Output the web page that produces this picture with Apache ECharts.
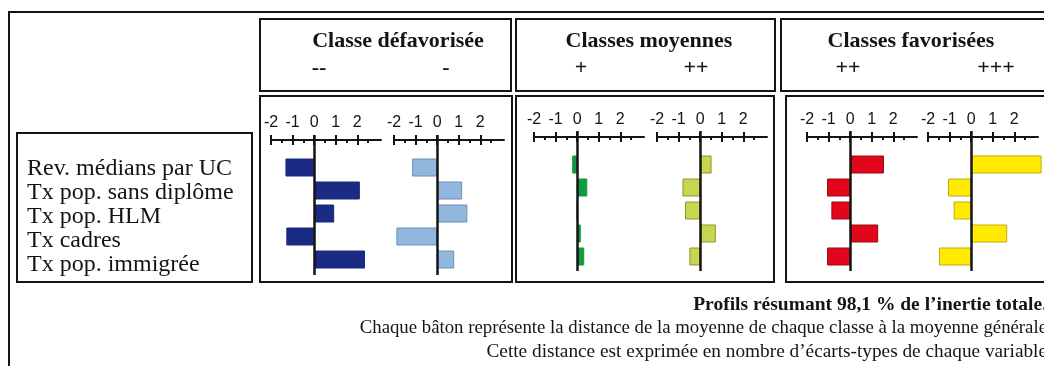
<!DOCTYPE html>
<html>
<head>
<meta charset="utf-8">
<script src="https://cdn.jsdelivr.net/npm/echarts@6/dist/echarts.min.js"></script>
<style>
  html, body { margin: 0; padding: 0; background: #fff; }
  #chart { width: 1044px; height: 366px; }
</style>
</head>
<body>
<div id="chart"></div>
<script>
// variables (rows of every profile)
const variables = ['Rev. médians par UC', 'Tx pop. sans diplôme', 'Tx pop. HLM', 'Tx cadres', 'Tx pop. immigrée'];
const classNames = ['Classe défavorisée', 'Classes moyennes', 'Classes favorisées'];
const profileNames = ['--', '-', '+', '++', '++', '+++'];
const majorTicks = [-2, -1, 0, 1, 2];
const minorTicks = [-1.5, -0.5, 0.5, 1.5, 2.5];

// distance to the mean, in standard deviations
const profilDefav2 = [-1.33, 2.12, 0.93, -1.29, 2.36];
const profilDefav1 = [-1.16, 1.16, 1.40, -1.89, 0.79];
const profilMoy1 = [-0.23, 0.47, 0, 0.17, 0.33];
const profilMoy2 = [0.53, -0.82, -0.70, 0.73, -0.50];
const profilFav2 = [1.57, -1.07, -0.87, 1.30, -1.07];
const profilFav3 = [3.27, -1.07, -0.81, 1.67, -1.49];

const chart = echarts.init(document.getElementById('chart'), null, { renderer: 'canvas' });

// layout of the six small panels
const panels = [
  { data: profilDefav2, left: 271, axisY: 140, top: 156, lineTop: 135, lineBottom: 275, color: '#1b2a82', border: '#1b2a82' },
  { data: profilDefav1, left: 394, axisY: 140, top: 156, lineTop: 135, lineBottom: 275, color: '#92b7df', border: '#6f8fb6' },
  { data: profilMoy1, left: 534, axisY: 137, top: 153, lineTop: 131, lineBottom: 271, color: '#119a40', border: '#119a40' },
  { data: profilMoy2, left: 657, axisY: 137, top: 153, lineTop: 131, lineBottom: 271, color: '#c8d54e', border: '#8d9733' },
  { data: profilFav2, left: 807, axisY: 137, top: 153, lineTop: 131, lineBottom: 271, color: '#e1061b', border: '#9c0a14' },
  { data: profilFav3, left: 928, axisY: 137, top: 153, lineTop: 131, lineBottom: 271, color: '#ffea00', border: '#c3aa10' }
];

const ink = '#141414';
const grids = [], xAxes = [], yAxes = [], series = [];

panels.forEach(function (p, i) {
  grids.push({ left: p.left, top: p.top, width: 110, height: 115, outerBoundsMode: 'none' });

  const base = {
    type: 'value', gridIndex: i, position: 'top', min: -2, max: 3.1,
    offset: p.top - p.axisY, splitLine: { show: false }
  };
  // main axis: line, labels, major ticks above the line
  xAxes.push(Object.assign({}, base, {
    axisLine: { show: true, lineStyle: { color: ink, width: 2 } },
    axisTick: { show: true, customValues: majorTicks, length: 5, lineStyle: { color: ink, width: 2 } },
    axisLabel: { show: true, customValues: majorTicks, margin: 9, fontFamily: 'Liberation Sans', fontSize: 16, color: ink }
  }));
  // major ticks below the line
  xAxes.push(Object.assign({}, base, {
    axisLine: { show: false },
    axisTick: { show: true, inside: true, customValues: majorTicks, length: 5, lineStyle: { color: ink, width: 2 } },
    axisLabel: { show: false }
  }));
  // half-unit ticks
  xAxes.push(Object.assign({}, base, {
    axisLine: { show: false },
    axisTick: { show: true, inside: true, customValues: minorTicks, length: 3, lineStyle: { color: ink, width: 2 } },
    axisLabel: { show: false }
  }));

  yAxes.push({
    type: 'category', gridIndex: i, data: variables, inverse: true,
    axisLine: { show: false, onZero: false }, axisTick: { show: false }, splitLine: { show: false },
    axisLabel: { show: false }
  });

  series.push({
    type: 'bar', xAxisIndex: 3 * i, yAxisIndex: i, data: p.data, barWidth: 18, clip: false,
    itemStyle: { color: p.color, borderColor: p.border, borderWidth: 1 },
    markLine: {
      silent: true, symbol: 'none', label: { show: false },
      lineStyle: { color: ink, width: 2.5, type: 'solid' },
      emphasis: { disabled: true },
      data: [[{ xAxis: 0, y: p.lineTop }, { xAxis: 0, y: p.lineBottom }]]
    }
  });
});

function box(x, y, w, h) {
  return { type: 'rect', shape: { x: x, y: y, width: w, height: h }, style: { fill: null, stroke: ink, lineWidth: 2 }, silent: true };
}
function label(x, y, text, size, bold, align) {
  return {
    type: 'text', x: x, y: y, silent: true,
    style: { text: text, fontFamily: 'Liberation Serif', fontSize: size, fontWeight: bold ? 'bold' : 'normal',
      fill: ink, align: align || 'center', verticalAlign: 'middle' }
  };
}

const titleX = [398, 649, 911];
const profileX = [319, 446, 581, 696, 848, 996];

const graphics = [
  box(9, 12, 1100, 400),
  box(260, 19, 251, 72), box(516, 19, 259, 72), box(781, 19, 300, 72),
  box(260, 96, 252, 186), box(516, 96, 258, 186), box(786, 96, 300, 186),
  box(17, 133, 235, 149)
];
// row names, one per line
graphics.push({
  type: 'text', x: 27, y: 157, silent: true,
  style: { text: variables.join('\n'), fontFamily: 'Liberation Serif', fontSize: 24, lineHeight: 24,
    fill: ink, align: 'left', verticalAlign: 'top' }
});
classNames.forEach(function (t, i) { graphics.push(label(titleX[i], 41, t, 22, true)); });
profileNames.forEach(function (t, i) { graphics.push(label(profileX[i], 68, t, 22, true)); });
graphics.push(label(1047, 305, 'Profils résumant 98,1 % de l\u2019inertie totale.', 19.5, true, 'right'));
graphics.push(label(1047, 328, 'Chaque bâton représente la distance de la moyenne de chaque classe à la moyenne générale', 18.8, false, 'right'));
graphics.push(label(1047, 352, 'Cette distance est exprimée en nombre d\u2019écarts-types de chaque variable', 19.3, false, 'right'));

const option = {
  animation: false,
  backgroundColor: '#ffffff',
  grid: grids,
  xAxis: xAxes,
  yAxis: yAxes,
  series: series,
  graphic: graphics
};

if (option && typeof option === 'object') {
  chart.setOption(option);
}
</script>
</body>
</html>
